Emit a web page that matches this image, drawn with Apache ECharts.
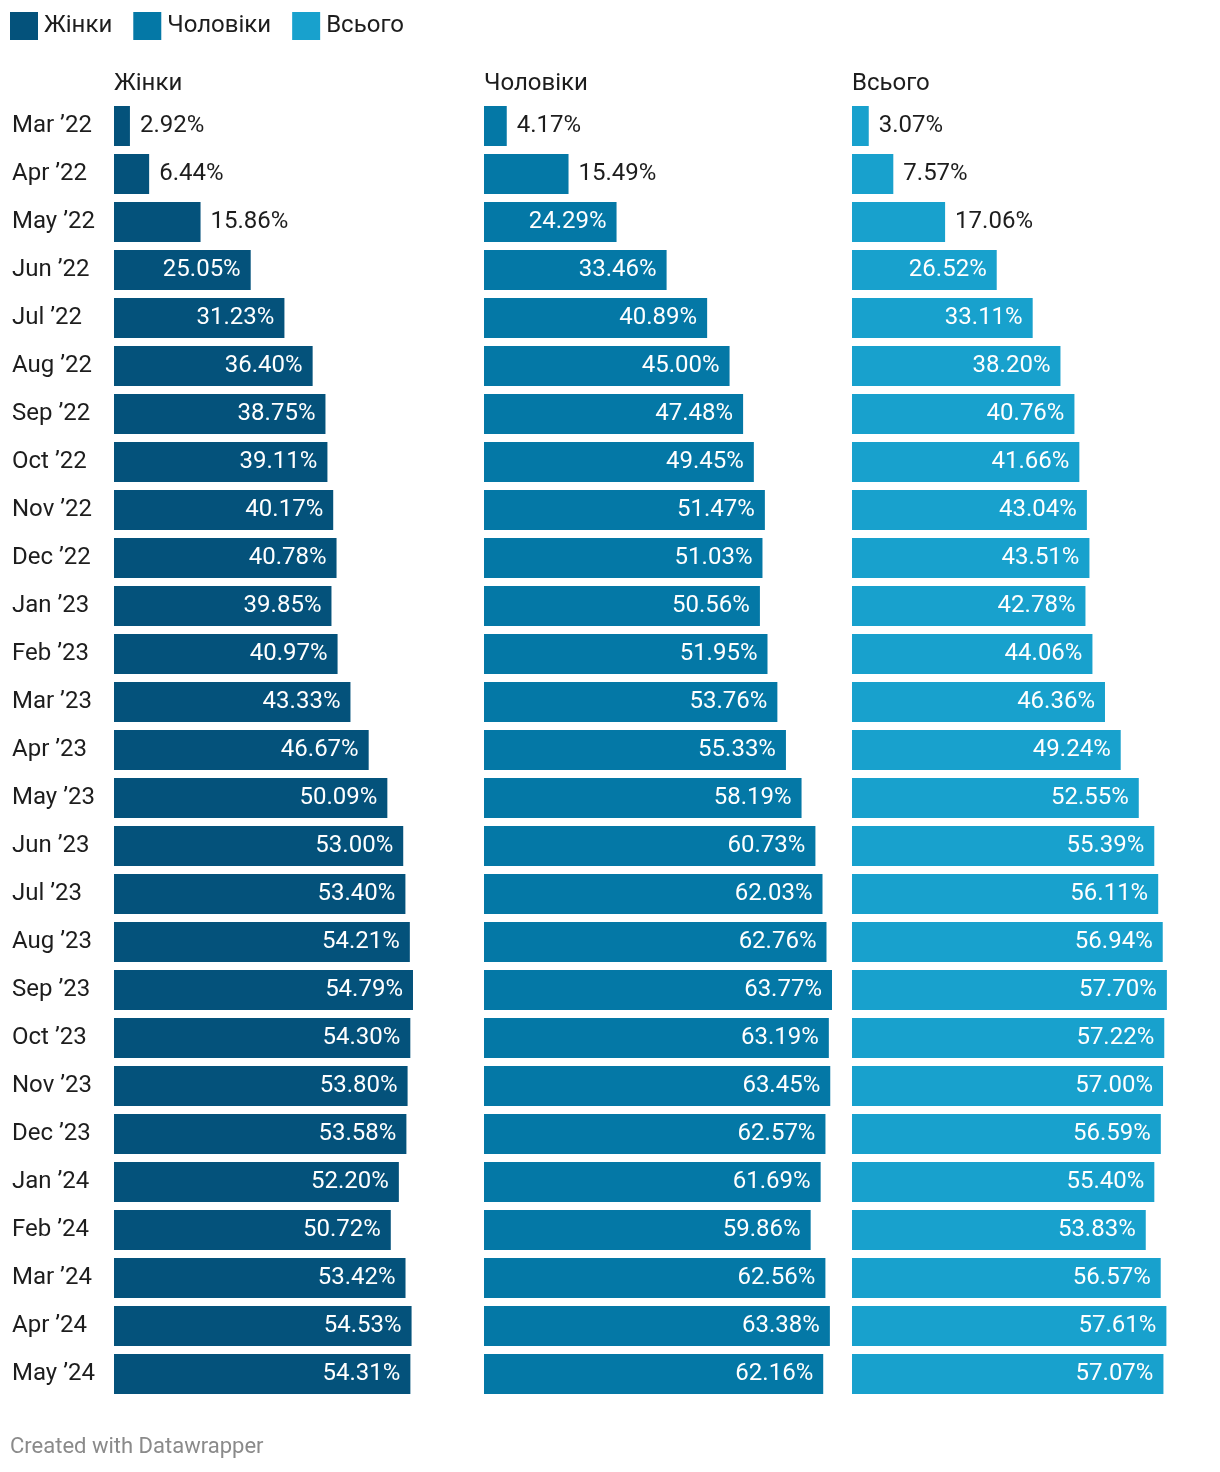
<!DOCTYPE html>
<html><head><meta charset="utf-8">
<script src="https://cdn.jsdelivr.net/npm/echarts@6/dist/echarts.min.js"></script>
<style>html,body{margin:0;padding:0;background:#fff}#c{width:1220px;height:1472px}</style>
</head><body><div id="c"></div>
<script>
const categories = ["Mar ’22","Apr ’22","May ’22","Jun ’22","Jul ’22","Aug ’22","Sep ’22","Oct ’22","Nov ’22","Dec ’22","Jan ’23","Feb ’23","Mar ’23","Apr ’23","May ’23","Jun ’23","Jul ’23","Aug ’23","Sep ’23","Oct ’23","Nov ’23","Dec ’23","Jan ’24","Feb ’24","Mar ’24","Apr ’24","May ’24"];
const women = [2.92,6.44,15.86,25.05,31.23,36.40,38.75,39.11,40.17,40.78,39.85,40.97,43.33,46.67,50.09,53.00,53.40,54.21,54.79,54.30,53.80,53.58,52.20,50.72,53.42,54.53,54.31];
const men = [4.17,15.49,24.29,33.46,40.89,45.00,47.48,49.45,51.47,51.03,50.56,51.95,53.76,55.33,58.19,60.73,62.03,62.76,63.77,63.19,63.45,62.57,61.69,59.86,62.56,63.38,62.16];
const total = [3.07,7.57,17.06,26.52,33.11,38.20,40.76,41.66,43.04,43.51,42.78,44.06,46.36,49.24,52.55,55.39,56.11,56.94,57.70,57.22,57.00,56.59,55.40,53.83,56.57,57.61,57.07];
const seriesNames = ["Жінки","Чоловіки","Всього"];
const colors = ["#04527b","#0478a6","#18a1cd"];

const FONT = "Roboto";
const FS = 24;
const allMax = Math.max(...women, ...men, ...total);
const lefts = [114, 484, 852];
const W = 348, TOP = 102, H = 27*48;
const data = [women, men, total];

const grids = [], xAxes = [], yAxes = [], series = [];
for (let i = 0; i < 3; i++) {
  grids.push({left: lefts[i], top: TOP, width: W, height: H, containLabel: false});
  xAxes.push({type: 'value', gridIndex: i, min: 0, max: allMax, show: false});
  yAxes.push({type: 'category', gridIndex: i, data: categories, inverse: true,
    axisLine: {show: false}, axisTick: {show: false}, splitLine: {show: false},
    axisLabel: {show: i === 0, align: 'left', margin: 102, color: '#1d1d1d', fontFamily: FONT, fontSize: FS, padding: [8,0,0,0]}});
  series.push({
    name: seriesNames[i], type: 'bar', xAxisIndex: i, yAxisIndex: i,
    barWidth: 40, itemStyle: {color: colors[i]},
    data: data[i].map(v => ({
      value: v,
      label: v < 20
        ? {show: true, position: 'right', distance: 10, color: '#1d1d1d'}
        : {show: true, position: 'insideRight', distance: 10, color: '#ffffff'}
    })),
    label: {fontFamily: FONT, fontSize: FS, padding: [8,0,0,0], formatter: p => p.value.toFixed(2) + '%'},
    animation: false
  });
}

const chart = echarts.init(document.getElementById('c'), null, {renderer: 'canvas'});
chart.setOption({
  animation: false,
  legend: {
    left: 10, top: 12, itemWidth: 28, itemHeight: 28, itemGap: 21, icon: 'rect', padding: 0,
    data: seriesNames,
    textStyle: {fontFamily: FONT, fontSize: FS, color: '#1d1d1d', padding: [5,0,0,1]}
  },
  grid: grids, xAxis: xAxes, yAxis: yAxes, series: series,
  graphic: [
    ...seriesNames.map((n, i) => ({type: 'text', left: lefts[i], top: 72, style: {text: n, fontFamily: FONT, fontSize: FS, fill: '#1d1d1d'}})),
    {type: 'text', left: 10, top: 1436, style: {text: 'Created with Datawrapper', fontFamily: FONT, fontSize: 22, fill: '#8a8a8a'}}
  ]
});
</script></body></html>
